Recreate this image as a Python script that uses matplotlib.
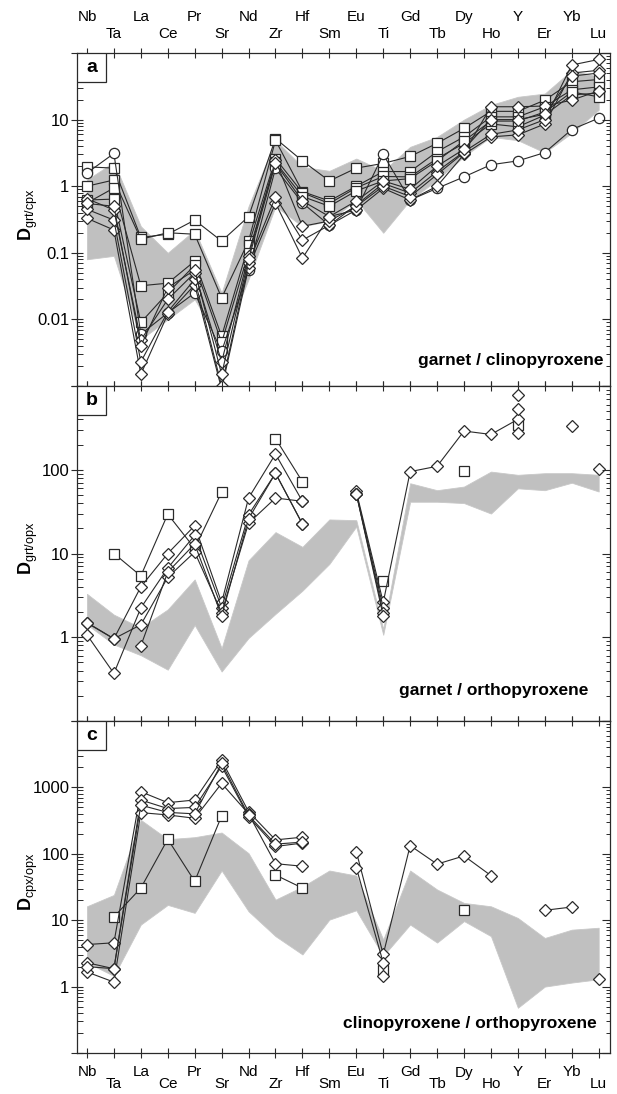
import numpy as np
import matplotlib
matplotlib.use('Agg')
import matplotlib.pyplot as plt
from matplotlib.patches import Rectangle
from matplotlib.ticker import LogLocator, FuncFormatter, NullFormatter
from matplotlib import transforms

plt.rcParams['font.family'] = ['Liberation Sans', 'DejaVu Sans']
plt.rcParams['mathtext.fontset'] = 'custom'
plt.rcParams['mathtext.rm'] = 'Liberation Sans'
plt.rcParams['mathtext.bf'] = 'Liberation Sans:bold'

nan = np.nan

elements = ['Nb', 'Ta', 'La', 'Ce', 'Pr', 'Sr', 'Nd', 'Zr', 'Hf', 'Sm',
            'Eu', 'Ti', 'Gd', 'Tb', 'Dy', 'Ho', 'Y', 'Er', 'Yb', 'Lu']

# ---- panel a : garnet / clinopyroxene
a_band_hi = [1.25, 2.3, 0.25, 0.1, 0.22, 0.025, 0.5, 4.9, 1.95, 1.7, 2.6, 1.7, 3.9, 5.5, 10, 16.6, 22, 24.6, 55, 44]
a_band_lo = [0.08, 0.09, 0.005, 0.01, 0.02, 0.004, 0.04, 0.5, 0.25, 0.3, 0.62, 0.2, 0.62, 1.24, 2.8, 5.5, 4.9, 3.2, 6.3, 14]

a_sq1 = [1.95, 1.87, 0.17, 0.19, 0.31, 0.15, 0.35, 5.2, 2.4, 1.2, 1.87, 2.2, 2.8, 4.4, 7.4, 13.3, 13.3, 19.6, 37, 40]
a_sq2 = [1.0, 1.24, 0.16, 0.2, 0.19, 0.021, 0.15, 4.9, 0.83, 0.6, 1.0, 1.66, 1.66, 3.3, 5.5, 11, 11, 15.6, 28, 31]
a_sq3 = [0.56, 0.94, 0.032, 0.035, 0.075, 0.0056, 0.13, 2.6, 0.8, 0.55, 0.95, 1.4, 1.38, 2.6, 4.4, 8.6, 7.8, 11.7, 23.5, 25]
a_sq4 = [0.62, 0.64, 0.009, 0.025, 0.065, 0.0045, 0.1, 2.3, 0.7, 0.5, 0.85, 1.2, 1.3, 2.4, 4.8, 9.5, 9.5, 13, 26, 22]
a_ci1 = [1.58, 3.1, 0.006, 0.0125, 0.025, 0.0033, 0.055, 1.85, 0.56, 0.26, 0.44, 3.0, 0.62, 0.93, 1.38, 2.1, 2.4, 3.2, 7.1, 10.5]
a_di1 = [0.33, 0.22, 0.0015, 0.012, 0.033, 0.0009, 0.06, 0.56, 0.083, 0.35, 0.44, 0.93, 0.62, 1.0, 3.0, 5.5, 5.9, 8.6, 50, 55]
a_di2 = [0.45, 0.31, 0.0023, 0.013, 0.04, 0.001, 0.07, 0.69, 0.155, 0.26, 0.52, 1.1, 0.79, 1.66, 3.3, 6.0, 7.0, 10, 66, 80]
a_di3 = [0.65, 0.44, 0.0049, 0.02, 0.05, 0.0023, 0.09, 2.45, 0.25, 0.3, 0.5, 1.0, 0.7, 1.5, 3.2, 15.6, 15.6, 16, 19.6, 27]
a_di4 = [0.55, 0.5, 0.004, 0.03, 0.055, 0.0015, 0.08, 2.2, 0.6, 0.35, 0.6, 1.2, 0.9, 2.0, 3.6, 10, 10, 12, 45, 50]

# ---- panel b : garnet / orthopyroxene
b_band_hi = [3.3, 1.86, 1.3, 2.15, 4.9, 0.74, 8.3, 18, 12, 25.5, 25, 1.25, 69, 57, 63, 95, 87, 91, 91, 87]
b_band_lo = [1.42, 0.82, 0.61, 0.41, 1.4, 0.39, 0.98, 1.9, 3.6, 7.5, 21, 1.07, 41.5, 41.5, 40, 30, 60, 57, 70, 55]

b_sq1 = [nan, 10, 5.4, 29.5, 11.5, 54, nan, 236, 72, nan, nan, 4.7, nan, nan, 97, nan, 342, nan, nan, nan]
b_di1 = [1.48, 0.96, 4.0, 10, 21.5, 2.6, 46, 154, 42, nan, 55, 2.6, 95, 110, 290, 264, 400, nan, nan, nan]
b_di2 = [1.07, 0.37, 2.24, 6.7, 16.5, 2.26, 29, 91, 22.5, nan, 52, 2.26, nan, nan, nan, nan, 530, nan, 332, nan]
b_di3 = [1.5, 0.96, 1.41, 5.2, 10.4, 1.97, 23, 46, 42, nan, 52, 1.97, nan, nan, nan, nan, 790, nan, nan, nan]
b_di4 = [nan, nan, 0.79, 6.0, 13, 1.79, 26, 91, 22.5, nan, 52, 1.79, nan, nan, nan, nan, 272, nan, nan, 103]

# ---- panel c : clinopyroxene / orthopyroxene
c_band_hi = [16.2, 24, 324, 166, 178, 209, 102, 20.4, 32, 56, 47, 5.1, 56, 29, 18.2, 16.2, 10.8, 5.4, 7.2, 7.7]
c_band_lo = [2.3, 1.45, 8.6, 17, 12.9, 56, 13.6, 5.75, 3.05, 10.2, 14.1, 2.9, 8.6, 4.6, 9.7, 5.75, 0.48, 1.0, 1.15, 1.29]

c_sq1 = [nan, 11.2, 30.5, 166, 38.5, 372, nan, 48, 30.5, nan, nan, 1.8, nan, nan, 14.1, nan, nan, nan, nan, nan]
c_di1 = [4.3, 4.57, 861, 589, 646, 2570, 431, 162, 178, nan, 108, 3.05, 133, 70, 93, 47, nan, 14.1, 15.8, nan]
c_di2 = [2.29, 1.86, 646, 480, 500, 2090, 363, 129, 145, nan, 62, 2.29, nan, nan, nan, nan, nan, nan, nan, nan]
c_di3 = [1.66, 1.17, 417, 385, 343, 1150, 400, 71, 65, nan, nan, 1.45, nan, nan, nan, nan, nan, nan, nan, 1.32]
c_di4 = [2.0, 1.86, 540, 420, 400, 2300, 380, 140, 150, nan, nan, nan, nan, nan, nan, nan, nan, nan, nan, nan]

panels = [
    dict(tag='a', name='garnet / clinopyroxene', ylab=r'$\mathbf{D}_{\mathrm{grt/cpx}}$',
         ylim=(1e-3, 1e2), labels=[0.01, 0.1, 1, 10], band=(a_band_lo, a_band_hi),
         series=[(a_sq1, 's'), (a_sq2, 's'), (a_sq3, 's'), (a_sq4, 's'), (a_ci1, 'o'),
                 (a_di1, 'D'), (a_di2, 'D'), (a_di3, 'D'), (a_di4, 'D')],
         txt_x=604, txt_y=365),
    dict(tag='b', name='garnet / orthopyroxene', ylab=r'$\mathbf{D}_{\mathrm{grt/opx}}$',
         ylim=(1e-1, 1e3), labels=[1, 10, 100], band=(b_band_lo, b_band_hi),
         series=[(b_sq1, 's'), (b_di1, 'D'), (b_di2, 'D'), (b_di3, 'D'), (b_di4, 'D')],
         txt_x=588, txt_y=695),
    dict(tag='c', name='clinopyroxene / orthopyroxene', ylab=r'$\mathbf{D}_{\mathrm{cpx/opx}}$',
         ylim=(1e-1, 1e4), labels=[1, 10, 100, 1000], band=(c_band_lo, c_band_hi),
         series=[(c_sq1, 's'), (c_di1, 'D'), (c_di2, 'D'), (c_di3, 'D'), (c_di4, 'D')],
         txt_x=597, txt_y=1028),
]

W, H = 617, 1094
left, right = 77, 610
tops = [53, 386, 721]
bots = [386, 721, 1053]
ink = '#2a2a2a'

fig = plt.figure(figsize=(W / 100, H / 100), dpi=100)
x = np.arange(len(elements))
axes = []

for p, top, bot in zip(panels, tops, bots):
    ax = fig.add_axes([left / W, 1 - bot / H, (right - left) / W, (bot - top) / H])
    axes.append(ax)
    ax.set_yscale('log')
    ax.set_ylim(*p['ylim'])
    ax.set_xlim(-0.37, 19.42)

    lo, hi = p['band']
    ax.fill_between(x, lo, hi, color='#c0c0c0', lw=0.6, ec='#c8c8c8', zorder=1)

    for vals, mk in p['series']:
        ms = 6.0 if mk == 'D' else 7.4
        ax.plot(x, vals, color=ink, lw=0.8, marker=mk, ms=ms, mfc='white',
                mec=ink, mew=0.9, zorder=3)

    labs = p['labels']
    ax.yaxis.set_major_locator(LogLocator(base=10, numticks=20))
    ax.yaxis.set_minor_locator(LogLocator(base=10, subs=np.arange(2, 10), numticks=20))
    ax.yaxis.set_major_formatter(FuncFormatter(
        lambda v, pos, labs=labs: ('%g' % v) if any(np.isclose(v, L) for L in labs) else ''))
    ax.yaxis.set_minor_formatter(NullFormatter())
    ax.yaxis.set_ticks_position('left')
    ax.tick_params(axis='y', which='major', direction='inout', length=9, width=0.8,
                   color=ink, labelsize=12, pad=1)
    ax.tick_params(axis='y', which='minor', direction='in', length=4, width=0.7, color=ink)

    ax.set_xticks(x)
    ax.set_xticklabels([])
    ax.tick_params(axis='x', which='both', top=True, bottom=True, direction='inout',
                   length=6.5, width=0.8, color=ink)
    ax.xaxis.set_minor_locator(plt.NullLocator())

    ax_r = ax.twinx()
    ax_r.set_yscale('log')
    ax_r.set_ylim(*p['ylim'])
    ax_r.yaxis.set_major_locator(LogLocator(base=10, numticks=20))
    ax_r.yaxis.set_minor_locator(LogLocator(base=10, subs=np.arange(2, 10), numticks=20))
    ax_r.yaxis.set_major_formatter(NullFormatter())
    ax_r.yaxis.set_minor_formatter(NullFormatter())
    ax_r.tick_params(axis='y', which='major', direction='in', length=5.5, width=0.8, color=ink)
    ax_r.tick_params(axis='y', which='minor', direction='in', length=3, width=0.7, color=ink)
    for s in ax_r.spines.values():
        s.set_visible(False)

    for s in ax.spines.values():
        s.set_color(ink)
        s.set_linewidth(0.9)

    # panel letter box
    bw, bh = 29 / (right - left), 29 / (bot - top)
    ax.add_patch(Rectangle((0, 1 - bh), bw, bh, transform=ax.transAxes, fc='white',
                           ec=ink, lw=0.9, zorder=5))
    ax.text(bw / 2, 1 - bh / 2, p['tag'], transform=ax.transAxes, ha='center', va='center',
            fontsize=14, fontweight='bold', zorder=6)

    ax.text((p['txt_x'] - left) / (right - left), (bot - p['txt_y']) / (bot - top), p['name'],
            transform=ax.transAxes, ha='right', va='baseline', fontsize=12.5,
            fontweight='bold', zorder=6)

    fig.text(28 / W, 1 - ((top + bot) / 2 - 5) / H, p['ylab'], rotation=90,
             ha='center', va='center', fontsize=13)

# staggered element labels on top and bottom
ax_top, ax_bot = axes[0], axes[-1]
for i, el in enumerate(elements):
    far = (i % 2 == 0)
    tr = transforms.offset_copy(ax_top.get_xaxis_transform(), fig=fig,
                                y=(32 if far else 15.5), units='dots')
    ax_top.text(i, 1, el, transform=tr, ha='center', va='baseline', fontsize=11)
    tr = transforms.offset_copy(ax_bot.get_xaxis_transform(), fig=fig,
                                y=-(35 if not far else 23.5), units='dots')
    ax_bot.text(i, 0, el, transform=tr, ha='center', va='baseline', fontsize=11)

fig.savefig('out.png', dpi=100)
